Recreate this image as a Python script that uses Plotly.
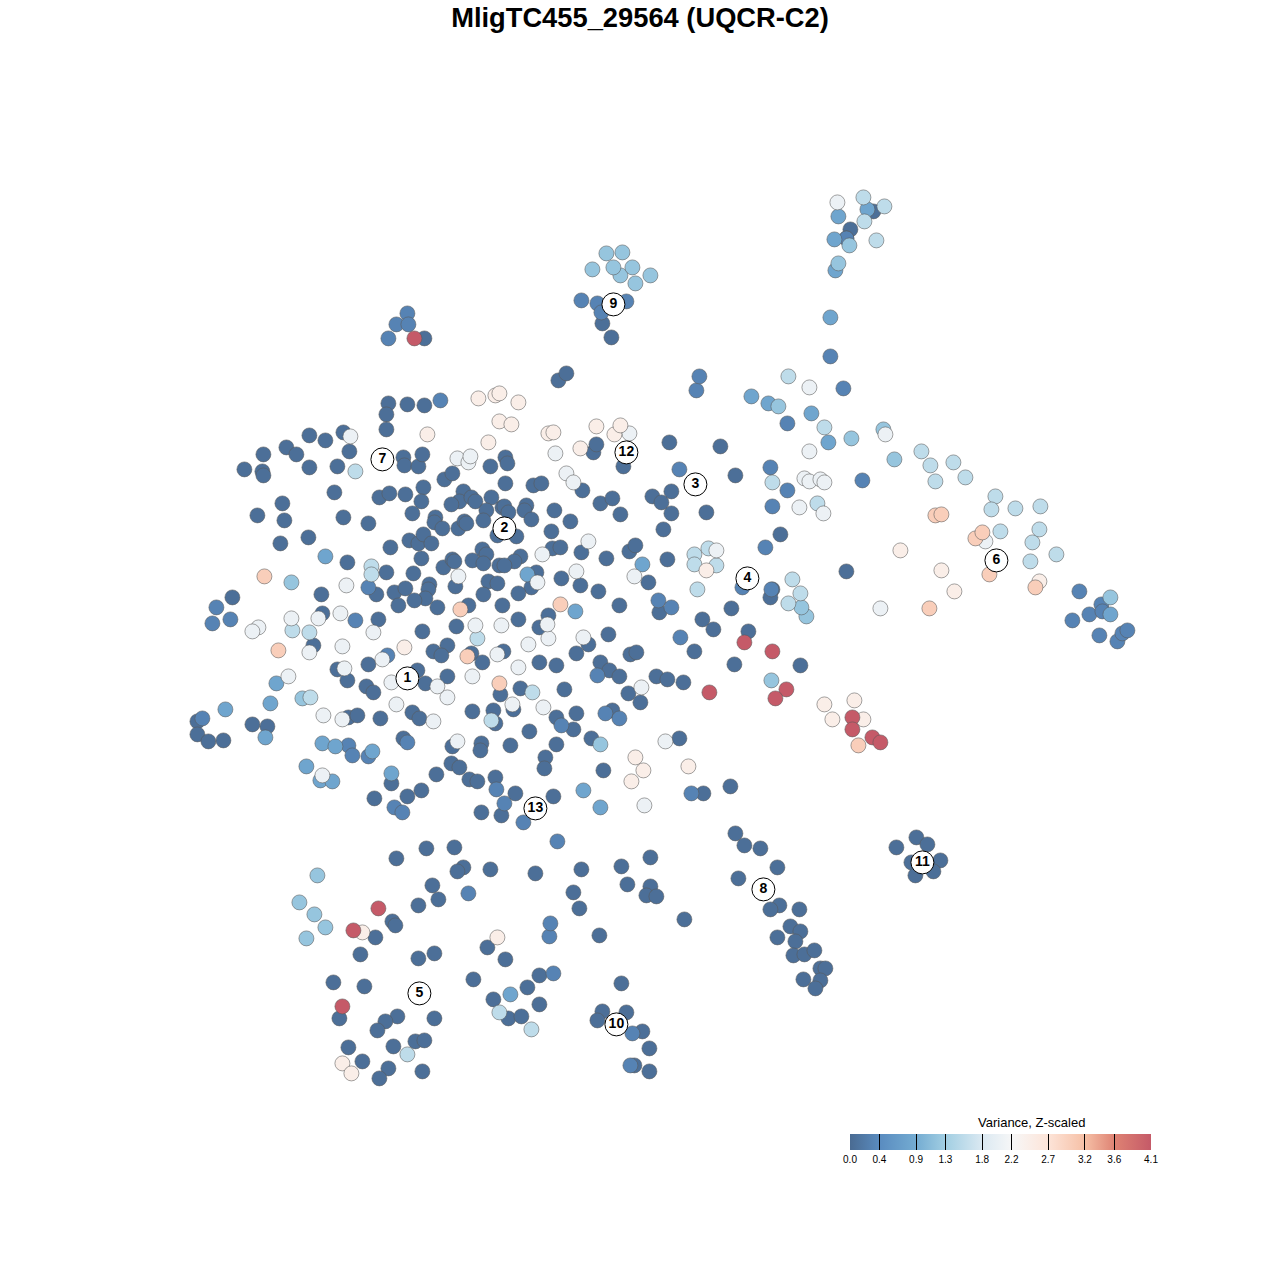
import plotly.graph_objects as go

TITLE = "MligTC455_29564 (UQCR-C2)"
LEGEND_TITLE = "Variance, Z-scaled"
tick_values = [0.0, 0.4, 0.9, 1.3, 1.8, 2.2, 2.7, 3.2, 3.6, 4.1]

# Metacell embedding positions, grouped by variance level
dark = [(388,403),(407,404),(424,405),(386,414),(386,429),(309,435),(325,440),(343,432),(286,447),(296,454),(263,454),(349,451),(244,469),(262,471),(263,475),(309,467),(337,466),(403,457),(404,465),(418,466),(422,454),(490,466),(444,479),(452,473),(334,492),(282,503),(257,515),(284,520),(343,517),(368,523),(308,537),(280,543),(379,497),(389,493),(405,494),(423,487),(421,501),(412,513),(463,491),(459,501),(451,504),(471,497),(475,501),(491,497),(486,510),(502,507),(435,517),(434,522),(442,528),(458,528),(464,521),(466,523),(483,520),(497,535),(390,547),(409,540),(418,543),(423,534),(431,543),(421,558),(443,567),(452,559),(454,561),(472,560),(482,549),(486,554),(483,563),(499,565),(347,562),(386,572),(413,573),(455,586),(488,581),(497,583),(376,594),(394,592),(405,588),(429,584),(428,589),(425,598),(414,600),(398,605),(437,607),(483,594),(468,605),(502,605),(321,594),(322,613),(232,597),(378,619),(422,631),(456,626),(313,645),(447,645),(433,651),(441,655),(471,653),(482,662),(337,669),(368,664),(347,680),(417,670),(425,683),(447,676),(366,686),(373,692),(500,694),
(197,721),(197,734),(208,741),(223,740),(252,724),(267,726),(348,717),(357,715),(380,718),(412,712),(419,718),(472,711),(493,710),(495,723),(452,746),(481,743),(480,750),(403,738),(451,763),(459,767),(436,774),(469,779),(477,781),(495,777),(391,783),(421,790),(407,796),(374,798),(481,812),(501,815),(426,848),(454,847),(396,858),
(558,380),(566,373),(669,442),(720,446),(735,475),(505,457),(507,463),(505,483),(533,485),(541,483),(593,452),(596,444),(623,466),(582,490),(600,503),(612,498),(620,514),(652,496),(661,502),(671,491),(671,513),(706,512),(663,529),(504,506),(508,512),(526,505),(524,510),(531,519),(554,510),(570,521),(551,531),(516,536),(520,556),(514,561),(504,565),(552,548),(560,547),(581,552),(606,558),(629,551),(635,545),(667,559),(780,534),(536,572),(531,587),(518,593),(561,578),(580,585),(598,591),(648,582),(619,605),(548,615),(518,619),(539,627),(659,612),(702,619),(713,629),(731,608),(772,589),(770,597),(748,631),(734,664),(608,634),(588,644),(576,653),(503,651),(539,662),(556,665),(600,662),(609,670),(619,676),(630,654),(636,652),(694,651),(656,676),(667,679),(683,682),(628,693),(640,702),(520,688),(564,689),(513,709),(556,717),(576,713),(612,710),(573,729),(529,731),(591,738),(679,738),(510,745),(556,744),(545,757),(544,768),(603,770),(515,793),(553,796),(703,793),(730,786),(846,571),(800,665),
(735,833),(744,845),(760,848),(777,867),(738,878),(779,905),(770,909),(799,909),(790,926),(800,931),(777,937),(795,941),(793,955),(804,954),(814,950),(820,968),(825,968),(803,979),(820,980),(815,988),
(896,847),(916,837),(927,844),(911,862),(940,860),(915,875),(933,871),(922,862),
(463,867),(457,871),(490,869),(535,873),(581,869),(621,866),(650,857),(627,884),(650,886),(646,895),(656,896),(432,885),(418,905),(438,899),(573,892),(579,908),(684,919),(392,921),(395,925),(375,937),(360,954),(418,958),(434,953),(487,947),(505,959),(599,935),(473,979),(333,982),(364,986),(527,987),(539,975),(621,983),(493,999),(539,1004),(508,1018),(521,1016),(602,1011),(626,1012),(597,1020),(642,1031),(649,1048),(397,1016),(385,1021),(377,1030),(434,1018),(339,1018),(393,1046),(415,1041),(424,1040),(348,1047),(362,1061),(388,1068),(422,1071),(379,1078),(634,1065),(649,1071),
(873,211),(850,229),(846,238),(602,323),(611,337),(424,338)]
mid_dark = [(440,400),(355,620),(368,587),(230,619),(216,607),(212,623),(387,655),(202,718),(348,745),(352,755),(368,756),(394,807),(402,812),(407,742),(496,789),(504,803),(523,822),(658,600),(671,607),(680,637),(605,713),(561,725),(691,793),(679,469),(696,390),(699,376),(843,388),(830,356),(787,423),(770,467),(787,490),(772,506),(765,547),(862,480),(771,589),(742,587),(581,300),(626,301),(597,303),(601,312),(557,841),(468,893),(549,936),(550,923),(553,973),(632,1033),(630,1065),(388,338),(396,324),(407,313),(408,324),(1079,591),(1101,604),(1089,614),(1072,620),(1102,611),(1099,635),(1117,641),(1122,633),(1127,630),(597,675),(619,718),(846,238)]
mid = [(830,317),(751,396),(768,403),(811,413),(828,442),(642,564),(527,574),(838,216),(867,209),(834,239),(835,270),(510,994),(583,790),(600,807),(1110,614),(325,556),(575,611),(276,683),(270,703),(225,709),(265,737),(306,766),(322,743),(335,746),(320,780),(332,781),(391,773),(372,751)]
light_blue = [(778,406),(849,245),(838,263),(620,275),(851,438),(883,429),(894,459),(806,616),(801,607),(771,680),(606,253),(622,252),(592,269),(613,267),(632,267),(650,275),(635,283),(317,875),(299,902),(314,914),(325,927),(306,938),(1110,597),(600,744),(302,698),(291,582)]
pale_blue = [(407,1054),(531,1029),(499,1012),(371,566),(371,574),(355,471),(292,630),(309,632),(310,697),(694,554),(694,564),(708,548),(716,565),(697,589),(772,482),(876,240),(884,206),(864,221),(863,197),(788,376),(824,427),(921,451),(930,465),(935,481),(953,462),(965,477),(792,579),(788,603),(800,593),(1032,542),(1039,529),(1056,554),(1030,561),(995,496),(991,509),(1015,508),(1040,506),(1000,531),(817,503),(477,638),(532,692),(491,720)]
white = [(837,202),(809,387),(809,451),(885,434),(350,436),(346,585),(340,613),(258,627),(252,631),(291,618),(318,618),(373,632),(342,646),(309,652),(344,668),(382,659),(288,676),(391,682),(323,715),(342,719),(396,704),(433,721),(447,697),(437,686),(472,676),(458,576),(475,625),(501,625),(528,644),(548,638),(547,624),(583,637),(518,667),(497,654),(512,704),(543,707),(457,741),(665,741),(322,775),(457,458),(468,462),(470,456),(555,453),(566,473),(573,482),(629,433),(542,554),(588,541),(576,571),(537,582),(634,576),(641,687),(644,805),(804,478),(809,481),(820,479),(824,482),(799,507),(823,513),(880,608),(985,541),(716,550)]
pink_white = [(427,434),(478,398),(495,395),(499,393),(518,402),(499,421),(511,424),(488,442),(548,433),(553,432),(580,448),(596,426),(614,434),(620,425),(404,647),(635,757),(643,770),(631,781),(688,766),(706,570),(824,704),(854,700),(832,719),(863,719),(900,550),(941,570),(954,591),(1039,581),(342,1063),(351,1073),(362,932),(497,937)]
peach = [(264,576),(278,650),(460,609),(467,656),(560,604),(499,683),(935,515),(941,514),(975,538),(982,532),(989,574),(1035,587),(929,608),(858,745)]
red = [(414,338),(744,642),(772,651),(709,692),(786,689),(775,698),(852,717),(852,729),(872,737),(880,742),(378,908),(353,930),(342,1006)]

group_points = [dark, mid_dark, mid, light_blue, pale_blue, white, pink_white, peach, red]
group_levels = [0.05, 0.3, 0.8, 1.2, 1.55, 2.05, 2.45, 3.0, 4.1]

cluster_labels = ["1","2","3","4","5","6","7","8","9","10","11","12","13"]
cluster_x = [407,504,695,747,419,996,382,763,613,616,922,626,535]
cluster_y = [678,528,484,578,993,560,459,889,304,1024,862,452,808]

colorscale = [
    [0.0, "#4a6b92"], [0.1, "#5a8cc0"], [0.22, "#74acd2"], [0.32, "#a3cfe3"],
    [0.44, "#dbe9f2"], [0.54, "#f7f7f7"], [0.66, "#fde4d8"], [0.78, "#f6c0a6"],
    [0.88, "#de8273"], [1.0, "#c55a68"],
]

xs, ys, vs = [], [], []
for pts, lvl in zip(group_points, group_levels):
    for px, py in pts:
        xs.append(px); ys.append(py); vs.append(lvl)

fig = go.Figure()
fig.add_trace(go.Scatter(
    x=xs, y=ys, mode="markers", hoverinfo="skip",
    marker=dict(
        size=15, color=vs, cmin=0, cmax=4.1, colorscale=colorscale,
        line=dict(color="rgba(90,90,90,0.55)", width=1),
        colorbar=dict(
            orientation="h", thickness=16, thicknessmode="pixels",
            len=301, lenmode="pixels",
            x=850/1280, xanchor="left", y=99/1280, yanchor="bottom",
            tickmode="array", tickvals=tick_values,
            ticktext=[f"{t:.1f}" for t in tick_values],
            ticks="inside", ticklen=16, tickwidth=1, tickcolor="black",
            tickfont=dict(family="Liberation Sans", size=10, color="black"),
            outlinewidth=0, xpad=0, ypad=0,
        ),
    ),
))
fig.add_trace(go.Scatter(
    x=cluster_x, y=cluster_y, mode="markers+text", text=cluster_labels,
    textposition="middle center", hoverinfo="skip",
    textfont=dict(family="Liberation Sans", size=14, color="black", weight="bold"),
    marker=dict(size=23, color="white", line=dict(color="black", width=1)),
))
fig.update_layout(
    width=1280, height=1280, autosize=False,
    margin=dict(l=0, r=0, t=0, b=0), showlegend=False,
    paper_bgcolor="white", plot_bgcolor="white",
    xaxis=dict(range=[-0.4, 1279.6], visible=False, fixedrange=True),
    yaxis=dict(range=[1279.6, -0.4], visible=False, fixedrange=True),
    title=dict(text=f"<b>{TITLE}</b>", x=0.5, xanchor="center", y=1-17/1280, yanchor="middle",
               font=dict(family="Liberation Sans", size=27.3, color="black")),
    annotations=[dict(text=LEGEND_TITLE, x=1031, y=1122, xref="x", yref="y", showarrow=False,
                      font=dict(family="Liberation Sans", size=13, color="black"))],
)
fig.write_html("out.html", config={"displayModeBar": False},
               post_script="document.body.style.margin='0';document.body.style.overflow='hidden';")
